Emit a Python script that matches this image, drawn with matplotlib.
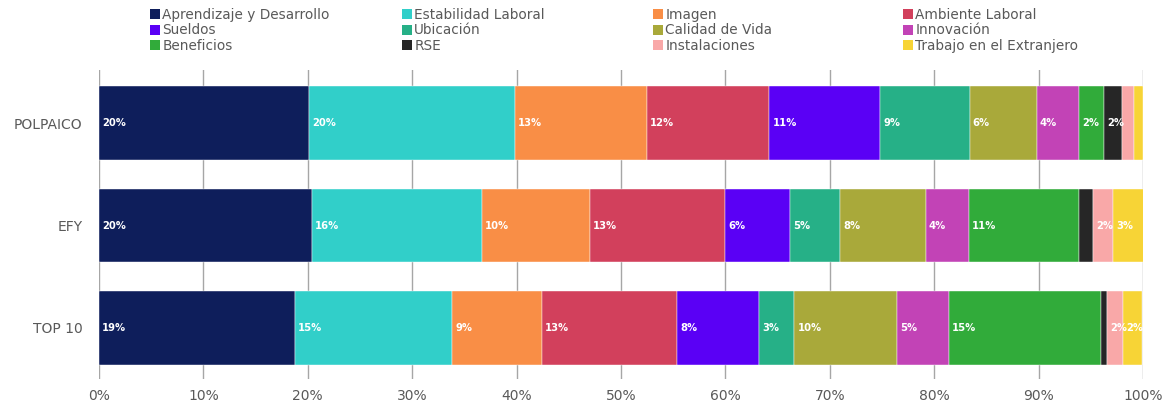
import matplotlib
matplotlib.use("Agg")
import matplotlib.pyplot as plt
from matplotlib.patches import Patch
import numpy as np

companies = ["POLPAICO", "EFY", "TOP 10"]
factors = ["Aprendizaje y Desarrollo", "Estabilidad Laboral", "Imagen", "Ambiente Laboral",
           "Sueldos", "Ubicación", "Calidad de Vida", "Innovación",
           "Beneficios", "RSE", "Instalaciones", "Trabajo en el Extranjero"]

polpaico = [20.1, 19.7, 12.7, 11.7, 10.6, 8.6, 6.4, 4.1, 2.4, 1.7, 1.1, 0.9]
efy      = [20.4, 16.3, 10.3, 13.0, 6.2, 4.8, 8.2, 4.1, 10.6, 1.35, 1.85, 3.0]
top10    = [18.75, 15.05, 8.6, 13.0, 7.8, 3.4, 9.8, 5.0, 14.6, 0.55, 1.5, 1.9]

colors = ["#0E1E5B", "#31CFC9", "#F98E46", "#D2405C",
          "#5A00F5", "#26B087", "#A9A93A", "#C243B6",
          "#31AB3A", "#262626", "#F9A8A8", "#F7D436"]

xticks = [0, 10, 20, 30, 40, 50, 60, 70, 80, 90, 100]
xticklabels = [f"{v}%" for v in xticks]

TEXT = "#595959"
GRID = "#A6A6A6"

fig = plt.figure(figsize=(11.76, 4.05), dpi=100)
ax = fig.add_axes([99/1176, 1 - 379/405, (1143 - 99)/1176, (379 - 70)/405])

data = np.array([polpaico, efy, top10])
y = np.arange(len(companies))
left = np.zeros(len(companies))
for j, f in enumerate(factors):
    vals = data[:, j]
    ax.barh(y, vals, left=left, height=0.72, color=colors[j],
            edgecolor="white", linewidth=0.3, zorder=2)
    for i, v in enumerate(vals):
        r = int(v + 0.5)
        if r >= 2:
            ax.text(left[i] + 0.3, y[i], f"{r}%", color="white",
                    fontsize=7.2, fontweight="bold", va="center", ha="left", zorder=3)
    left += vals

ax.set_xlim(0, 100)
ax.set_ylim(2.5, -0.52)
ax.set_xticks(xticks)
ax.set_xticklabels(xticklabels)
ax.set_yticks(y)
ax.set_yticklabels(companies)
ax.tick_params(axis="x", length=0, pad=7, labelsize=10, labelcolor=TEXT)
ax.tick_params(axis="y", length=0, pad=12, labelsize=10, labelcolor=TEXT)
for s in ax.spines.values():
    s.set_visible(False)
ax.xaxis.grid(True, color=GRID, linewidth=1.0, zorder=0)
ax.set_axisbelow(True)

# legend: 4 columns, row-major order
col_x = [150, 402, 653, 903]
for c in range(4):
    idx = [c, c + 4, c + 8]
    handles = [Patch(facecolor=colors[k], edgecolor="none") for k in idx]
    labels = [factors[k] for k in idx]
    fig.legend(handles, labels, loc="upper left",
               bbox_to_anchor=(col_x[c]/1176, 1 - 8/405),
               frameon=False, fontsize=9.8, labelcolor=TEXT,
               handlelength=0.75, handleheight=0.75, handletextpad=0.15,
               labelspacing=0.1, borderpad=0, borderaxespad=0)

fig.savefig("out.png", dpi=100)
